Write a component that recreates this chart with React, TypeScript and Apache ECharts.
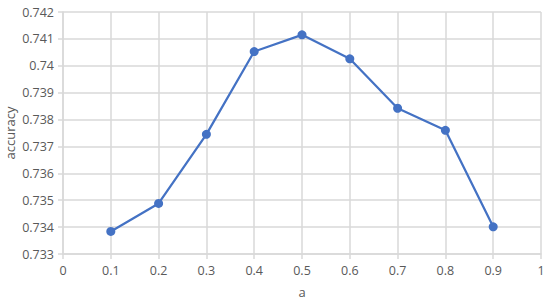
import React, { useEffect, useRef } from "react";
import * as echarts from "echarts";

const xValues = [0.1, 0.2, 0.3, 0.4, 0.5, 0.6, 0.7, 0.8, 0.9];
const accuracy = [0.73384, 0.73488, 0.73745, 0.74053, 0.74115, 0.74026, 0.73842, 0.73760, 0.73401];
const xName = "a";
const yName = "accuracy";

export default function App() {
  const ref = useRef<HTMLDivElement>(null);
  useEffect(() => {
    if (!ref.current) return;
    const chart = echarts.init(ref.current, null, { renderer: "svg" });
    const labelStyle = { color: "#595959", fontSize: 12.5, fontFamily: "Open Sans" };
    chart.setOption({
      animation: false,
      backgroundColor: "#ffffff",
      grid: { left: 63, right: 9, top: 12, bottom: 50, containLabel: false, outerBoundsMode: "none" },
      xAxis: {
        type: "value",
        min: 0,
        max: 1,
        interval: 0.1,
        name: xName,
        nameLocation: "middle",
        nameGap: 31,
        nameMoveOverlap: false,
        nameTextStyle: { ...labelStyle, fontSize: 13 },
        axisLine: { show: true, lineStyle: { color: "#d9d9d9", width: 1.5 } },
        axisTick: { show: true, length: 5, lineStyle: { color: "#d9d9d9", width: 1.5 } },
        axisLabel: { ...labelStyle, margin: 10, formatter: (v: number) => String(Math.round(v * 10) / 10) },
        splitLine: { show: true, lineStyle: { color: "#d9d9d9", width: 1.5 } },
      },
      yAxis: {
        type: "value",
        min: 0.733,
        max: 0.742,
        interval: 0.001,
        name: yName,
        nameLocation: "middle",
        nameGap: 46,
        nameMoveOverlap: false,
        nameTextStyle: { ...labelStyle, fontSize: 13, lineHeight: 14 },
        axisLine: { show: true, lineStyle: { color: "#d9d9d9", width: 1.5 } },
        axisTick: { show: true, length: 5, lineStyle: { color: "#d9d9d9", width: 1.5 } },
        axisLabel: {
          ...labelStyle,
          margin: 9,
          formatter: (v: number) => String(Math.round(v * 1000) / 1000),
        },
        splitLine: { show: true, lineStyle: { color: "#d9d9d9", width: 1.5 } },
      },
      series: [
        {
          type: "line",
          data: xValues.map((x, i) => [x, accuracy[i]]),
          symbol: "circle",
          symbolSize: 9,
          itemStyle: { color: "#4472C4" },
          lineStyle: { color: "#4472C4", width: 2.25 },
        },
      ],
    });
    return () => chart.dispose();
  }, []);
  return <div ref={ref} style={{ width: 550, height: 304, position: "absolute", left: 0, top: 0 }} />;
}
